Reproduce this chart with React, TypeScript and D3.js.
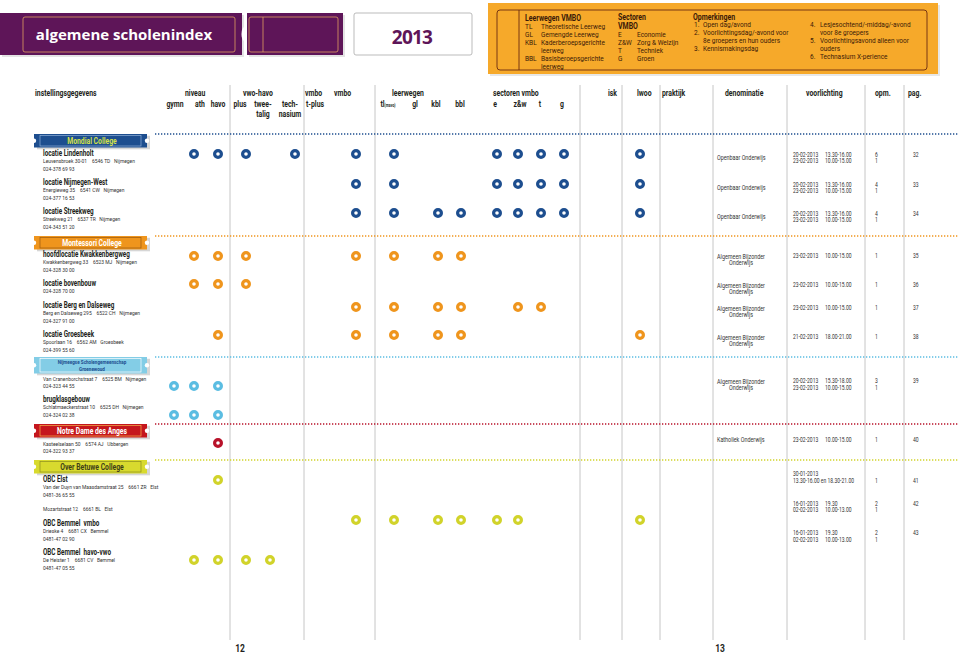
import React from "react";
import * as d3 from "d3";

// ---------- DATA ----------
const columnKeys = ["gymn","ath","havo","plus","twee","tech","tplus","vmbo","tl","gl","kbl","bbl","e","zw","t","g","isk","lwoo","praktijk"];

const headerTop = [
  { label: "instellingsgegevens", col: "title" },
  { label: "niveau", col: "niveau" },
  { label: "vwo-havo", col: "vwohavo" },
  { label: "vmbo", col: "tplus" },
  { label: "vmbo", col: "vmbo" },
  { label: "leerwegen", col: "leerwegen" },
  { label: "sectoren vmbo", col: "sectoren" },
  { label: "isk", col: "isk" },
  { label: "lwoo", col: "lwoo" },
  { label: "praktijk", col: "praktijk" },
  { label: "denominatie", col: "denominatie" },
  { label: "voorlichting", col: "voorlichting" },
  { label: "opm.", col: "opm" },
  { label: "pag.", col: "pag" },
];
const headerSub = [
  { col: "gymn", lines: ["gymn"] }, { col: "ath", lines: ["ath"] }, { col: "havo", lines: ["havo"] },
  { col: "plus", lines: ["plus"] }, { col: "twee", lines: ["twee-", "talig"] }, { col: "tech", lines: ["tech-", "nasium"] },
  { col: "tplus", lines: ["t-plus"] }, { col: "tl", lines: ["tl"] }, { col: "gl", lines: ["gl"] }, { col: "kbl", lines: ["kbl"] }, { col: "bbl", lines: ["bbl"] },
  { col: "e", lines: ["e"] }, { col: "zw", lines: ["z&w"] }, { col: "t", lines: ["t"] }, { col: "g", lines: ["g"] },
];

const schools = ["Mondial College", "Montessori College", "Nijmeegse Scholengemeenschap|Groenewoud", "Notre Dame des Anges", "Over Betuwe College"];

const locationNames = ["locatie Lindenholt","locatie Nijmegen-West","locatie Streekweg","hoofdlocatie Kwakkenbergweg","locatie bovenbouw","locatie Berg en Dalseweg","locatie Groesbeek","","brugklasgebouw","","OBC Elst","","OBC Bemmel  vmbo","OBC Bemmel  havo-vwo"];
const locationSchool = [0,0,0,1,1,1,1,2,2,3,4,4,4,4];
const locationAddress = [
  "Leuvensbroek 30-01    6546 TD   Nijmegen",
  "Energieweg 35    6541 CW   Nijmegen",
  "Streekweg 21    6537 TR   Nijmegen",
  "Kwakkenbergweg 33    6523 MJ   Nijmegen",
  "",
  "Berg en Dalseweg 295    6522 CH   Nijmegen",
  "Spoorlaan 16    6562 AM   Groesbeek",
  "Van Cranenborchstraat 7    6525 BM   Nijmegen",
  "Schlatmaeckerstraat 10    6525 DH   Nijmegen",
  "Kasteelselaan 50    6574 AJ   Ubbergen",
  "Van der Duyn van Maasdamstraat 25    6661 ZR   Elst",
  "Mozartstraat 12    6661 BL   Elst",
  "Drieske 4    6681 CX   Bemmel",
  "De Heister 1    6681 CV   Bemmel",
];
const locationPhone = ["024-378 69 93","024-377 16 53","024-343 51 20","024-328 30 00","024-328 70 00","024-327 91 00","024-399 55 60","024-323 44 55","024-324 02 38","024-322 93 37","0481-36 65 55","","0481-47 02 90","0481-47 05 55"];
const locationOffers = [
  ["ath","havo","plus","tech","vmbo","tl","e","zw","t","g","lwoo"],
  ["vmbo","tl","e","zw","t","g","lwoo"],
  ["vmbo","tl","kbl","bbl","e","zw","t","g","lwoo"],
  ["ath","havo","plus","vmbo","tl","kbl","bbl"],
  ["ath","havo","plus"],
  ["vmbo","tl","kbl","bbl","zw","t"],
  ["havo","vmbo","tl","kbl","bbl","lwoo"],
  ["gymn","ath","havo"],
  ["gymn","ath","havo"],
  ["havo"],
  ["havo"],
  [],
  ["vmbo","tl","kbl","bbl","e","zw","lwoo"],
  ["ath","havo","plus","twee"],
];
const locationDenom = ["Openbaar Onderwijs","Openbaar Onderwijs","Openbaar Onderwijs","Algemeen Bijzonder|Onderwijs","Algemeen Bijzonder|Onderwijs","Algemeen Bijzonder|Onderwijs","Algemeen Bijzonder|Onderwijs","Algemeen Bijzonder|Onderwijs","","Katholiek Onderwijs","","","",""];
const locationDates = [
  [["20-02-2013","13.30-16.00"],["23-02-2013","10.00-15.00"]],
  [["20-02-2013","13.30-16.00"],["23-02-2013","10.00-15.00"]],
  [["20-02-2013","13.30-16.00"],["23-02-2013","10.00-15.00"]],
  [["23-02-2013","10.00-15.00"]],
  [["23-02-2013","10.00-15.00"]],
  [["23-02-2013","10.00-15.00"]],
  [["21-02-2013","18.00-21.00"]],
  [["20-02-2013","15.30-18.00"],["23-02-2013","10.00-15.00"]],
  [],
  [["23-02-2013","10.00-15.00"]],
  [["30-01-2013",""],["13.30-16.00 en 18.30-21.00",""]],
  [],
  [["16-01-2013","19.30"],["02-02-2013","10.00-13.00"]],
  [["16-01-2013","19.30"],["02-02-2013","10.00-13.00"]],
];
const locationOpm = [["6","1"],["4","1"],["4","1"],["1"],["1"],["1"],["1"],["3","1"],[],["1"],["","1"],[],["2","1"],["2","1"]];
const locationPag = ["32","33","34","35","36","37","38","39","","40","41","","42","43"];

const legendLeerwegen = [["TL","Theoretische Leerweg"],["GL","Gemengde Leerweg"],["KBL","Kaderberoepsgerichte"],["","leerweg"],["BBL","Basisberoepsgerichte"],["","leerweg"]];
const legendSectoren = [["E","Economie"],["Z&W","Zorg & Welzijn"],["T","Techniek"],["G","Groen"]];
const legendOpm1 = [["1.","Open dag/avond"],["2.","Voorlichtingsdag/-avond voor"],["","8e groepers en hun ouders"],["3.","Kennismakingsdag"]];
const legendOpm2 = [["4.","Lesjesochtend/-middag/-avond"],["","voor 8e groepers"],["5.","Voorlichtingsavond alleen voor"],["","ouders"],["6.","Technasium X-perience"]];
const pageNumbers = ["12", "13"];

// ---------- LAYOUT / STYLE ----------
const W = 959, H = 654;
const FONT = "Roboto,'Noto Sans',sans-serif";
const colX = d3.scaleOrdinal<string, number>().domain(columnKeys)
  .range([174,194,218,246,270,295,318,356,394,415,438,461,497,518,541,564,604,640,686]);
const headX = d3.scaleOrdinal<string, number>()
  .domain(["title","niveau","vwohavo","tplus","vmbo","leerwegen","sectoren","isk","lwoo","praktijk","denominatie","voorlichting","opm","pag"])
  .range([35,185,243,305,334,392,493,608,637,662,725,806,875,908]);
const subX = d3.scaleOrdinal<string, number>().domain(columnKeys)
  .range([175,200,218,240,263,290,315,356,388,415,436,460,495,520,540,562,604,640,686]);
const rowY = d3.scaleOrdinal<number, number>().domain(d3.range(14))
  .range([153,182,211,254,283,305,334,372,399,437,479,502,523,552]);
const dotY = d3.scaleOrdinal<number, number>().domain(d3.range(14))
  .range([154,184,213,256,284,307,335,386,415,443,480,509,520,560]);
const infoY = d3.scaleOrdinal<number, number>().domain(d3.range(14))
  .range([156.5,186.5,215.5,258,287,310,339,383,0,442,476,0,505.5,535]);
const schoolY = d3.scaleOrdinal<number, number>().domain(d3.range(5)).range([134,236,357,424,460]);
const schoolFill = ["#1d4e8f","#ef951d","#83cde6","#c5161d","#d8da2e"];
const schoolText = ["#d3e04a","#ffffff","#1d4e8f","#ffffff","#3f3f18"];
const schoolInner = ["#8fb0d8","#9a5a12","#ffffff","#f2b24a","#8e8e20"];
const dotColor = ["#1d4e8f","#ef951d","#5bbde2","#b8122a","#d1d32a"];
const dividers = [230,304,375,580,622,660,713,787,865,904];
const DARK = "#231f20";
const GREY = "#333333";

function T(p: { x: number; y: number; sx?: number; anchor?: string; size: number; bold?: boolean; fill?: string; children: any }) {
  return (
    <text transform={`translate(${p.x},${p.y}) scale(${p.sx ?? 0.78},1)`} textAnchor={p.anchor ?? "start"}
      fontSize={p.size} fontWeight={p.bold ? "bold" : "normal"} fill={p.fill ?? GREY} style={{ whiteSpace: "pre" }}>
      {p.children}
    </text>
  );
}

function Banner({ i }: { i: number }) {
  const y = schoolY(i);
  const lines = schools[i].split("|");
  const two = lines.length > 1;
  const h = two ? 16.5 : 13.5;
  return (
    <g>
      <line x1={155} x2={W} y1={y} y2={y} stroke={dotColor[i]} strokeWidth={1.3} strokeDasharray="1.3,1.7" />
      <rect x={37} y={y + 1.8} width={113} height={h} fill="#8a8a8a" opacity={0.35} />
      <rect x={34} y={y} width={113} height={h} fill={schoolFill[i]} />
      <rect x={40} y={y + 1.5} width={101} height={h - 3} fill="none" stroke={schoolInner[i]} strokeWidth={0.7} />
      <circle cx={34} cy={y + h / 2} r={2.2} fill="#fff" />
      <circle cx={147} cy={y + h / 2} r={2.2} fill="#fff" />
      {lines.map((t, k) => (
        <T key={k} x={92} y={two ? y + 7 + k * 6.6 : y + 10} anchor="middle" sx={0.74}
          size={two ? 6.2 : 9.2} bold fill={schoolText[i]}>{t}</T>
      ))}
    </g>
  );
}

export default function App() {
  return (
    <svg width={W} height={H} style={{ position: "absolute", left: 0, top: 0, background: "#fff" }} fontFamily={FONT}>
      {/* Title banner */}
      <rect x={2} y={15} width={242} height={42} fill="#bbb" opacity={0.4} />
      <rect x={0} y={13} width={242} height={42} fill="#5e1558" />
      <rect x={23} y={17} width={212} height={35} fill="none" stroke="#e0a060" strokeWidth={0.8} rx={2} />
      <text x={124} y={40} textAnchor="middle" fill="#fff" fontSize={15} fontWeight="bold" fontFamily="'Open Sans',sans-serif">algemene scholenindex</text>
      <ellipse cx={244.5} cy={34} rx={3} ry={7} fill="#fff" />
      <rect x={249} y={15} width={96} height={42} fill="#bbb" opacity={0.4} />
      <rect x={247} y={13} width={96} height={42} fill="#5e1558" />
      <rect x={249} y={17} width={89} height={35} fill="none" stroke="#e0a060" strokeWidth={0.8} rx={2} />
      <line x1={263} x2={263} y1={17} y2={52} stroke="#e0a060" strokeWidth={0.8} />
      <rect x={354} y={13} width={118} height={42} fill="#fff" stroke="#aaa" strokeWidth={0.8} rx={2} />
      <text x={412} y={44} textAnchor="middle" fill="#5e1558" fontSize={19} fontWeight="bold" fontFamily="'Open Sans',sans-serif" letterSpacing={-0.8}>2013</text>

      {/* Legend box */}
      <rect x={490} y={5} width={450} height={71} fill="#c9c9c9" opacity={0.45} />
      <rect x={488} y={3} width={450} height={71} fill="#f6a92a" />
      <rect x={497} y={10} width={430} height={60} fill="none" stroke="#6b2a10" strokeWidth={0.9} rx={3} />
      <line x1={519} x2={519} y1={10} y2={70} stroke="#6b2a10" strokeWidth={0.9} />
      <g>
        <T x={525} y={21} size={8.5} bold fill="#3b1a08" sx={0.82}>Leerwegen VMBO</T>
        {legendLeerwegen.map((r, k) => (
          <g key={k}>
            <T x={525} y={28.5 + k * 8.1} size={7.4} fill="#3b1a08" sx={0.88}>{r[0]}</T>
            <T x={541} y={28.5 + k * 8.1} size={7.4} fill="#3b1a08" sx={0.88}>{r[1]}</T>
          </g>
        ))}
        <T x={618} y={20} size={8.5} bold fill="#3b1a08" sx={0.82}>Sectoren</T>
        <T x={618} y={29} size={8.5} bold fill="#3b1a08" sx={0.82}>VMBO</T>
        {legendSectoren.map((r, k) => (
          <g key={k}>
            <T x={618} y={37 + k * 8.1} size={7.4} fill="#3b1a08" sx={0.88}>{r[0]}</T>
            <T x={637} y={37 + k * 8.1} size={7.4} fill="#3b1a08" sx={0.88}>{r[1]}</T>
          </g>
        ))}
        <T x={693} y={19.5} size={8.5} bold fill="#3b1a08" sx={0.82}>Opmerkingen</T>
        {legendOpm1.map((r, k) => (
          <g key={k}>
            <T x={694} y={26.5 + k * 8.3} size={7.4} fill="#3b1a08" sx={0.88}>{r[0]}</T>
            <T x={703} y={26.5 + k * 8.3} size={7.4} fill="#3b1a08" sx={0.88}>{r[1]}</T>
          </g>
        ))}
        {legendOpm2.map((r, k) => (
          <g key={k}>
            <T x={810} y={26.5 + k * 8.1} size={7.4} fill="#3b1a08" sx={0.88}>{r[0]}</T>
            <T x={820} y={26.5 + k * 8.1} size={7.4} fill="#3b1a08" sx={0.88}>{r[1]}</T>
          </g>
        ))}
      </g>

      {/* Column headers */}
      {headerTop.map((h, k) => (
        <T key={k} x={headX(h.col)} y={95.5} size={8.8} bold fill={DARK} sx={0.78}>{h.label}</T>
      ))}
      {headerSub.map((h, k) => h.lines.map((l, j) => (
        <T key={k + "-" + j} x={subX(h.col)} y={106.5 + j * 10.5} anchor="middle" size={8.8} bold fill={DARK} sx={0.78}>
          {l === "tl" ? <>tl<tspan fontSize={4.5}>(mavo)</tspan></> : l}
        </T>
      )))}

      {/* Dividers */}
      {dividers.map((x, k) => (
        <line key={k} x1={x} x2={x} y1={85} y2={640} stroke="#b8b8b8" strokeWidth={0.8} />
      ))}

      {/* School banners */}
      {schools.map((_, i) => <Banner key={i} i={i} />)}

      {/* Locations */}
      {locationNames.map((name, i) => {
        const y = rowY(i);
        const hasName = name !== "";
        const addrY = hasName ? y + 10.3 : y + 9;
        const iy = infoY(i);
        const parts = locationDenom[i] ? locationDenom[i].split("|") : [];
        return (
          <g key={i}>
            {hasName && <T x={43} y={y + 3} size={8.2} bold fill={DARK} sx={0.77}>{name}</T>}
            {locationAddress[i] && <T x={43} y={addrY} size={5.6} sx={0.88}>{locationAddress[i]}</T>}
            {locationPhone[i] && <T x={43} y={locationAddress[i] ? addrY + 7.2 : addrY} size={5.6} sx={0.88}>{locationPhone[i]}</T>}
            {locationOffers[i].map((c) => (
              <circle key={c} cx={colX(c)} cy={dotY(i)} r={3.4} fill="#fff" stroke={dotColor[locationSchool[i]]} strokeWidth={3.2} />
            ))}
            {parts.length === 1 && <T x={717} y={iy + (locationDates[i].length > 1 ? 3 : 0)} size={6.6} sx={0.82}>{parts[0]}</T>}
            {parts.length === 2 && parts.map((p, k) => (
              <T key={k} x={741} y={iy + 1 + k * 6} size={6.6} anchor="middle" sx={0.82}>{p}</T>
            ))}
            {locationDates[i].map((d, k) => (
              <g key={k}>
                <T x={793} y={iy + k * 6.5} size={6.6} sx={0.76}>{d[0]}</T>
                {d[1] && <T x={825} y={iy + k * 6.5} size={6.6} sx={0.76}>{d[1]}</T>}
              </g>
            ))}
            {locationOpm[i].map((o, k) => (
              <T key={k} x={875} y={iy + k * 6.5} size={6.6} sx={0.76}>{o}</T>
            ))}
            {locationPag[i] && <T x={913} y={iy + (i === 10 ? 7 : 0)} size={6.6} sx={0.76}>{locationPag[i]}</T>}
          </g>
        );
      })}

      {/* Page numbers */}
      <T x={240} y={652} anchor="middle" size={10} bold fill={DARK} sx={0.85}>{pageNumbers[0]}</T>
      <T x={720} y={652} anchor="middle" size={10} bold fill={DARK} sx={0.85}>{pageNumbers[1]}</T>
    </svg>
  );
}
